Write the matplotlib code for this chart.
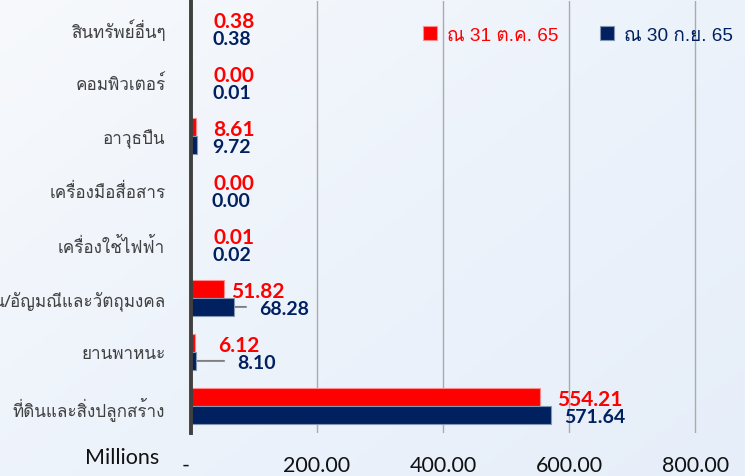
import numpy as np
import matplotlib
matplotlib.use("Agg")
import matplotlib.pyplot as plt
from matplotlib.patches import Patch
from matplotlib.colors import LinearSegmentedColormap

# ---- data ----
categories = ['สินทรัพย์อื่นๆ', 'คอมพิวเตอร์', 'อาวุธปืน', 'เครื่องมือสื่อสาร',
              'เครื่องใช้ไฟฟ้า', 'ทองรูปพรรณ/อัญมณีและวัตถุมงคล', 'ยานพาหนะ',
              'ที่ดินและสิ่งปลูกสร้าง']
oct65 = [0.38, 0.00, 8.61, 0.00, 0.01, 51.82, 6.12, 554.21]
sep65 = [0.38, 0.01, 9.72, 0.00, 0.02, 68.28, 8.10, 571.64]
series_names = ['ณ 31 ต.ค. 65', 'ณ 30 ก.ย. 65']
xticks = [0, 200, 400, 600, 800]
xticklabels = ['-  ', '200.00', '400.00', '600.00', '800.00']

# ---- style ----
RED = '#FF0000'
NAVY = '#002060'
PX = 0.72  # points per pixel at dpi 100
red_dx = [22, 22, 17, 22, 22, 7, 23, 17]      # label offsets (px)
blue_dx = [21, 21, 15, 21, 21, 25, 41, 13]
blue_leader = [0, 0, 0, 0, 0, 12, 28, 0]      # leader line lengths (px)

num_font = 'Lato'
thai_font = ['Loma', 'DejaVu Sans']
legend_font = ['Liberation Sans', 'Loma']

fig = plt.figure(figsize=(7.45, 4.77), dpi=100)

# background gradient
bg = fig.add_axes([0, 0, 1, 1], zorder=-10)
cmap = LinearSegmentedColormap.from_list('bg', ['#F7F9FC', '#EDF3FB', '#E6EEF9'])
gx, gy = np.meshgrid(np.linspace(0, 1, 200), np.linspace(0, 1, 200))
grad = 0.55 * gx + 0.45 * gy
bg.imshow(grad, cmap=cmap, aspect='auto', extent=[0, 1, 1, 0])
bg.axis('off')

ax = fig.add_axes([191 / 745, 1 - 434 / 477, 1 - 191 / 745, 432 / 477])
ax.set_facecolor('none')

y = np.arange(len(categories))
h = 0.33
ax.barh(y - h / 2, oct65, height=h, color=RED, edgecolor='#FF8C8C', linewidth=0.8, zorder=3)
ax.barh(y + h / 2, sep65, height=h, color=NAVY, edgecolor='#8496B0', linewidth=0.8, zorder=3)

ax.set_xlim(0, 879)
ax.set_ylim(len(categories) - 0.5, -0.5)

ax.set_xticks(xticks)
ax.set_xticklabels(xticklabels, fontfamily=num_font, fontsize=15.5, color='#111111')
ax.set_yticks(y)
ax.set_yticklabels(categories, fontfamily=thai_font, fontsize=12.3, color='#404040')
ax.tick_params(axis='x', length=0, pad=16)
ax.tick_params(axis='y', length=0, pad=18.5)

for s in ['top', 'right', 'bottom']:
    ax.spines[s].set_visible(False)
ax.spines['left'].set_color('#404040')
ax.spines['left'].set_linewidth(2.8)
ax.spines['left'].set_zorder(5)

ax.xaxis.grid(True, color='#ABABAB', linewidth=1.0, zorder=0)
ax.set_axisbelow(True)
for gl, t in zip(ax.xaxis.get_gridlines(), xticks):
    if t == 0:
        gl.set_visible(False)

# value labels
fs_r, fs_b = 15, 14
for i, (vr, vb) in enumerate(zip(oct65, sep65)):
    ax.annotate(f'{vr:.2f}', xy=(vr, i - h / 2), xytext=(red_dx[i] * PX, -0.7165 * fs_r / 2),
                textcoords='offset points', ha='left', va='baseline',
                fontfamily=num_font, fontweight='bold', fontsize=fs_r, color=RED, zorder=6)
    ax.annotate(f'{vb:.2f}', xy=(vb, i + h / 2), xytext=(blue_dx[i] * PX, -0.7165 * fs_b / 2),
                textcoords='offset points', ha='left', va='baseline',
                fontfamily=num_font, fontweight='bold', fontsize=fs_b, color=NAVY, zorder=6)
    if blue_leader[i]:
        ax.annotate('', xy=(vb, i + h / 2), xytext=(blue_leader[i] * PX, 0),
                    textcoords='offset points',
                    arrowprops=dict(arrowstyle='-', color='#808080', lw=1.4,
                                    shrinkA=0, shrinkB=0), zorder=2)

# "Millions" unit label
fig.text(159 / 745, 1 - 458 / 477, 'Millions', ha='right', va='center',
         fontfamily=num_font, fontsize=15.5, color='#111111')

# legend
handles = [Patch(facecolor=RED, edgecolor='#FF8C8C', linewidth=0.8),
           Patch(facecolor=NAVY, edgecolor='#8496B0', linewidth=0.8)]
leg = ax.legend(handles, series_names, ncol=2, frameon=False,
                loc='center left', bbox_to_anchor=(423 / 745, 1 - 36 / 477),
                bbox_transform=fig.transFigure, borderpad=0, borderaxespad=0,
                handlelength=0.75, handleheight=0.75, handletextpad=0.5,
                columnspacing=2.2, prop={'family': legend_font, 'size': 13.7})
for txt, c in zip(leg.get_texts(), [RED, NAVY]):
    txt.set_color(c)

fig.savefig('out.png', dpi=100)
